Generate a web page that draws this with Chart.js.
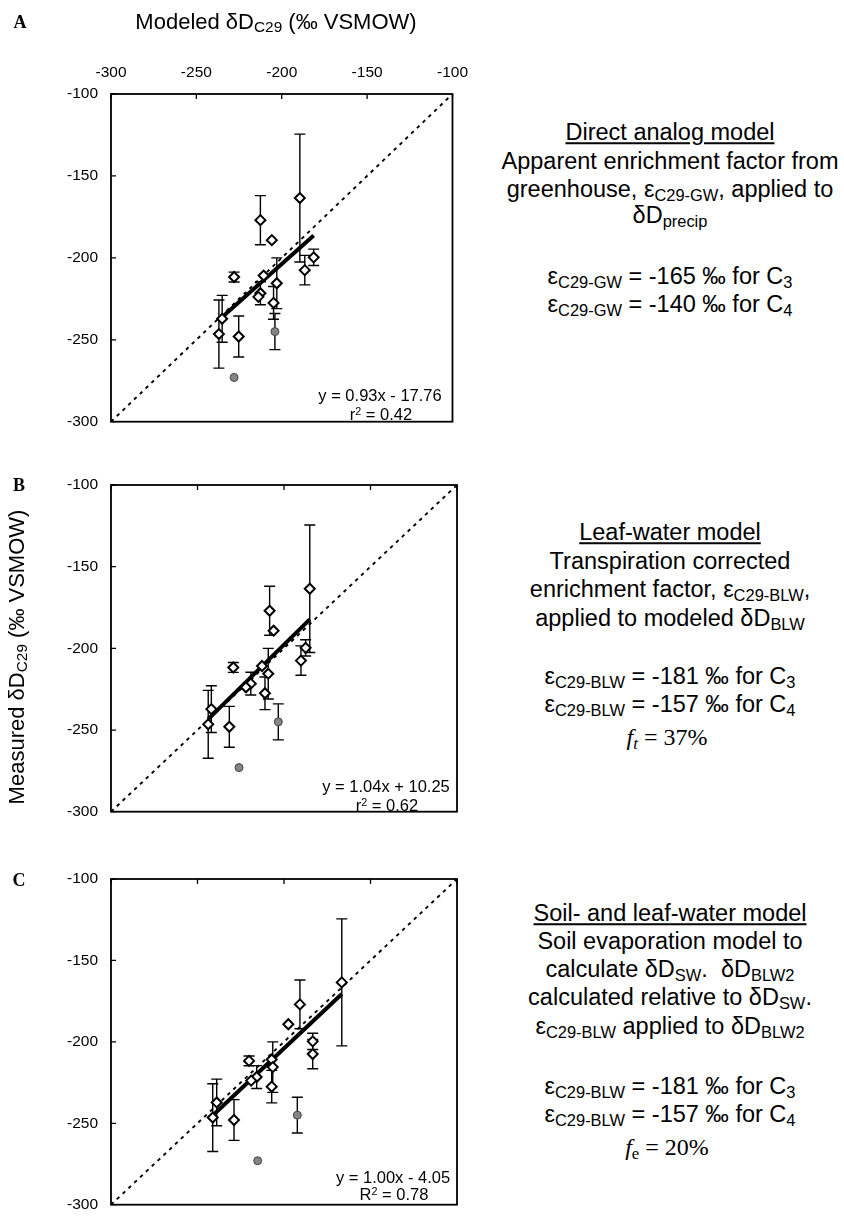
<!DOCTYPE html>
<html><head><meta charset="utf-8">
<script src="https://cdn.jsdelivr.net/npm/chart.js@4.4.1/dist/chart.umd.min.js"></script>
<style>
body{margin:0;background:#fff;width:844px;height:1223px;position:relative;overflow:hidden;font-family:"Liberation Sans",Arial,sans-serif;color:#000}
canvas{position:absolute;left:0}
.t{position:absolute;white-space:nowrap;transform:translate(-50%,-50%);line-height:1}
.side{font-size:23.5px}
.s{font-size:0.7em;position:relative;top:0.22em}
.sup{font-size:0.65em;position:relative;top:-0.45em}
.lab{font-family:"Liberation Serif","Times New Roman",serif;font-weight:bold;font-size:18px}
.eq{font-size:16.5px}
.tm{font-family:"Liberation Serif","Times New Roman",serif;font-size:24px}
.ttl{font-size:22px}
</style></head><body>
<canvas id="cA" width="480" height="444" style="top:0px"></canvas>
<canvas id="cB" width="480" height="394" style="top:440px"></canvas>
<canvas id="cC" width="480" height="397" style="top:830px"></canvas>

<div class="t lab" style="left:20px;top:22px">A</div>
<div class="t lab" style="left:19px;top:485px">B</div>
<div class="t lab" style="left:19px;top:880px">C</div>

<div class="t ttl" style="left:276px;top:22px">Modeled δD<span class="s">C29</span> (‰ VSMOW)</div>
<div class="t ttl" style="left:17px;top:657px;transform:translate(-50%,-50%) rotate(-90deg)">Measured δD<span class="s">C29</span> (‰ VSMOW)</div>

<div class="t eq" style="left:380px;top:395px">y = 0.93x - 17.76</div>
<div class="t eq" style="left:381px;top:414px">r<span class="sup">2</span> = 0.42</div>
<div class="t eq" style="left:386px;top:786px">y = 1.04x + 10.25</div>
<div class="t eq" style="left:387px;top:805px">r<span class="sup">2</span> = 0.62</div>
<div class="t eq" style="left:393px;top:1177px">y = 1.00x - 4.05</div>
<div class="t eq" style="left:394px;top:1194px">R<span class="sup">2</span> = 0.78</div>

<div class="t side" style="left:670px;top:133px"><u>Direct analog model</u></div>
<div class="t side" style="left:670px;top:162px">Apparent enrichment factor from</div>
<div class="t side" style="left:670px;top:190px">greenhouse, ε<span class="s">C29-GW</span>, applied to</div>
<div class="t side" style="left:670px;top:216px">δD<span class="s">precip</span></div>
<div class="t side" style="left:670px;top:277px">ε<span class="s">C29-GW</span> = -165 ‰ for C<span class="s">3</span></div>
<div class="t side" style="left:670px;top:305px">ε<span class="s">C29-GW</span> = -140 ‰ for C<span class="s">4</span></div>

<div class="t side" style="left:670px;top:533px"><u>Leaf-water model</u></div>
<div class="t side" style="left:670px;top:562px">Transpiration corrected</div>
<div class="t side" style="left:670px;top:590px">enrichment factor, ε<span class="s">C29-BLW</span>,</div>
<div class="t side" style="left:670px;top:619px">applied to modeled δD<span class="s">BLW</span></div>
<div class="t side" style="left:670px;top:677px">ε<span class="s">C29-BLW</span> = -181 ‰ for C<span class="s">3</span></div>
<div class="t side" style="left:670px;top:705px">ε<span class="s">C29-BLW</span> = -157 ‰ for C<span class="s">4</span></div>
<div class="t tm" style="left:667px;top:737px"><i>f</i><span class="s"><i>t</i></span> = 37%</div>

<div class="t side" style="left:670px;top:914px"><u>Soil- and leaf-water model</u></div>
<div class="t side" style="left:670px;top:942px">Soil evaporation model to</div>
<div class="t side" style="left:670px;top:970px">calculate δD<span class="s">SW</span>.&nbsp; δD<span class="s">BLW2</span></div>
<div class="t side" style="left:670px;top:998px">calculated relative to δD<span class="s">SW</span>.</div>
<div class="t side" style="left:670px;top:1027px">ε<span class="s">C29-BLW</span> applied to δD<span class="s">BLW2</span></div>
<div class="t side" style="left:670px;top:1087px">ε<span class="s">C29-BLW</span> = -181 ‰ for C<span class="s">3</span></div>
<div class="t side" style="left:670px;top:1115px">ε<span class="s">C29-BLW</span> = -157 ‰ for C<span class="s">4</span></div>
<div class="t tm" style="left:667px;top:1147px"><i>f</i><span class="s">e</span> = 20%</div>

<script>
// ---- data ----
const xTickLabels = [-300, -250, -200, -150, -100];
const yTickLabels = [-100, -150, -200, -250, -300];

// measured δD C29 (same samples in every panel)
const measured = [-163.5, -177, -189.2, -199.7, -207.5, -211.7, -210.8, -215.5, -221.6, -223.8, -227.5, -237.2, -246.5, -248];
const measuredErr = [39, 15, 0, 5, 9, 3, 0, 15.5, 7, 0, 10, 14.3, 20.8, 12.5];
const measuredGray = [-245, -273];
const measuredGrayErr = [11, 0];

// modeled δD C29
const modeledA = [-189.4, -212.5, -205.8, -181.3, -186.5, -227.9, -210.6, -202.9, -212.5, -213.7, -204.8, -234.9, -236.8, -225.2];
const modeledGrayA = [-204, -227.9];
const modeledB = [-185.1, -208.3, -206, -187.5, -190.2, -229.3, -212.7, -209.1, -219.2, -222, -211, -242, -243.8, -231.6];
const modeledGrayB = [-203.3, -226];
const modeledC = [-166.6, -190.8, -197.5, -183.4, -183.4, -220.2, -207.1, -206.5, -215.8, -219, -207.1, -238.9, -241.2, -228.9];
const modeledGrayC = [-192.3, -215.2];

// regression fits
const fitSlope = [0.93, 1.04, 1.00];
const fitIntercept = [-17.76, 10.25, -4.05];

// ---- plugins ----
const errPlugin = {
  id: 'errbars',
  beforeDatasetsDraw(chart) {
    const {ctx, scales: {x, y}} = chart;
    chart.data.datasets.forEach(ds => {
      if (!ds.errors) return;
      ctx.save();
      ctx.strokeStyle = '#000';
      ctx.lineWidth = 1.4;
      ds.data.forEach((p, i) => {
        const e = ds.errors[i];
        if (!e) return;
        const px = x.getPixelForValue(p.x);
        const y1 = y.getPixelForValue(p.y + e), y2 = y.getPixelForValue(p.y - e);
        ctx.beginPath();
        ctx.moveTo(px, y1); ctx.lineTo(px, y2);
        ctx.moveTo(px - 5.5, y1); ctx.lineTo(px + 5.5, y1);
        ctx.moveTo(px - 5.5, y2); ctx.lineTo(px + 5.5, y2);
        ctx.stroke();
      });
      ctx.restore();
    });
  }
};
const framePlugin = {
  id: 'frame',
  afterDatasetsDraw(chart) {
    const {ctx, chartArea: a, scales: {x, y}} = chart;
    ctx.save();
    ctx.strokeStyle = '#000';
    ctx.lineWidth = 1.8;
    ctx.strokeRect(a.left, a.top, a.right - a.left, a.bottom - a.top);
    ctx.lineWidth = 1.3;
    ctx.beginPath();
    xTickLabels.forEach(v => { const px = x.getPixelForValue(v); ctx.moveTo(px, a.top); ctx.lineTo(px, a.top + 5); });
    yTickLabels.forEach(v => { const py = y.getPixelForValue(v); ctx.moveTo(a.left, py); ctx.lineTo(a.left + 5, py); });
    ctx.stroke();
    ctx.restore();
  }
};

function pts(xs, ys) { return xs.map((v, i) => ({x: v, y: ys[i]})); }

function makePanel(id, canvasTop, areaTop, areaBottom, canvasH, modeled, modeledGray, k, showX) {
  const xmin = Math.min(...modeled), xmax = Math.max(...modeled);
  const fit = [xmin, xmax].map(v => ({x: v, y: fitSlope[k] * v + fitIntercept[k]}));
  const font = {family: '"Liberation Sans", Arial, sans-serif', size: 15.5};
  new Chart(document.getElementById(id), {
    type: 'scatter',
    data: {
      datasets: [
        {data: pts(modeled, measured), errors: measuredErr, pointStyle: 'rectRot', pointRadius: 5,
         pointBackgroundColor: '#fff', pointBorderColor: '#000', pointBorderWidth: 2, order: 1},
        {data: pts(modeledGray, measuredGray), errors: measuredGrayErr, pointStyle: 'circle', pointRadius: 4,
         pointBackgroundColor: '#858585', pointBorderColor: '#444', pointBorderWidth: 1, order: 2},
        {data: fit, showLine: true, borderColor: '#000', borderWidth: 4, pointRadius: 0, order: 3},
        {data: [{x: xTickLabels[0], y: yTickLabels[yTickLabels.length - 1]}, {x: xTickLabels[xTickLabels.length - 1], y: yTickLabels[0]}],
         showLine: true, borderColor: '#000', borderWidth: 1.9, borderDash: [3.5, 4.5], pointRadius: 0, order: 4}
      ]
    },
    options: {
      responsive: false, animation: false, devicePixelRatio: 1,
      layout: {padding: {left: 0, right: 23, top: 0, bottom: canvasTop + canvasH - areaBottom}},
      plugins: {legend: {display: false}, tooltip: {enabled: false}},
      scales: {
        x: {type: 'linear', position: 'top', min: -300, max: -100,
            afterBuildTicks: s => { s.ticks = xTickLabels.map(v => ({value: v})); },
            afterFit: s => { s.height = areaTop - canvasTop; },
            grid: {display: false, drawTicks: false}, border: {display: false},
            ticks: {display: showX, padding: 12, color: '#000', font, maxRotation: 0}},
        y: {type: 'linear', position: 'left', min: -300, max: -100,
            afterBuildTicks: s => { s.ticks = yTickLabels.map(v => ({value: v})); },
            afterFit: s => { s.width = 111; },
            grid: {display: false, drawTicks: false}, border: {display: false},
            ticks: {padding: 13, color: '#000', font}}
      }
    },
    plugins: [errPlugin, framePlugin]
  });
}

makePanel('cA', 0, 94, 432, 444, modeledA, modeledGrayA, 0, true);
makePanel('cB', 440, 485, 822, 394, modeledB, modeledGrayB, 1, false);
makePanel('cC', 830, 879, 1215, 397, modeledC, modeledGrayC, 2, false);
</script>
</body></html>
